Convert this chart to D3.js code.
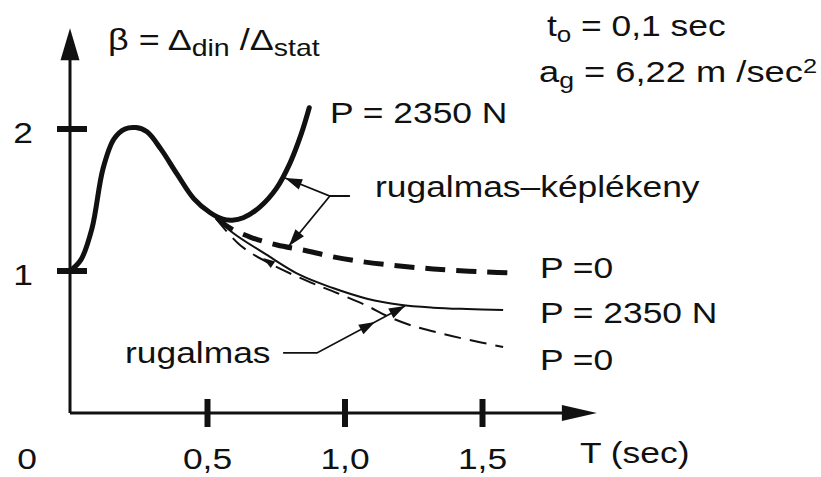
<!DOCTYPE html>
<html>
<head>
<meta charset="utf-8">
<script src="https://cdn.jsdelivr.net/npm/d3@7"></script>
<style>
  html, body { margin: 0; padding: 0; background: #fff; }
  svg text { font-family: "Liberation Sans", Arial, Helvetica, sans-serif; fill: #111; }
</style>
</head>
<body>
<div id="chart"></div>
<script>
// periods T (sec) and dynamic factor beta
var tPlastic2350 = [0, 0.04, 0.08, 0.12, 0.16, 0.2, 0.24, 0.28, 0.33, 0.39, 0.45, 0.51, 0.556, 0.59, 0.63, 0.69, 0.75, 0.8, 0.84, 0.87];
var bPlastic2350 = [1.0, 1.08, 1.3, 1.72, 1.93, 2.0, 2.01, 1.98, 1.86, 1.68, 1.51, 1.41, 1.365, 1.358, 1.375, 1.45, 1.58, 1.76, 1.96, 2.15];

var tPlastic0 = [0.535, 0.575, 0.655, 0.753, 0.847, 0.956, 1.065, 1.175, 1.284, 1.393, 1.516, 1.618];
var bPlastic0 = [1.375, 1.31, 1.239, 1.183, 1.148, 1.10, 1.065, 1.04, 1.02, 1.005, 0.993, 0.986];

var tElastic2350 = [0.53, 0.593, 0.716, 0.836, 0.956, 1.08, 1.2, 1.32, 1.444, 1.575];
var bElastic2350 = [1.375, 1.268, 1.113, 0.972, 0.88, 0.805, 0.762, 0.742, 0.732, 0.725];

var tElastic0 = [0.53, 0.618, 0.716, 0.862, 0.971, 1.08, 1.153, 1.236, 1.331, 1.436, 1.575];
var bElastic0 = [1.37, 1.183, 1.063, 0.93, 0.845, 0.755, 0.683, 0.62, 0.57, 0.521, 0.465];

var xTicks = [0.5, 1.0, 1.5];
var xTickLabels = ['0,5', '1,0', '1,5'];
var yTicks = [1, 2];
var yTickLabels = ['1', '2'];

var W = 821, H = 477;
var STRETCH = 1.18; // the scan is wider than it is tall

var svg = d3.select('#chart').append('svg')
  .attr('width', W)
  .attr('height', H);

var x = d3.scaleLinear().domain([0, 1.5]).range([70, 482.5]);
var y = d3.scaleLinear().domain([0, 2]).range([413, 129]);
var xEnd = 1.916, yEnd = 2.71;

function zip(ts, bs) {
  return ts.map(function (t, i) { return [t, bs[i]]; });
}

var line = d3.line()
  .x(function (d) { return x(d[0]); })
  .y(function (d) { return y(d[1]); })
  .curve(d3.curveCatmullRom.alpha(0.5));

// filled arrow head, tip at px point, pointing away from "from"
function head(g, tip, from, len, half) {
  var dx = tip[0] - from[0], dy = tip[1] - from[1];
  var l = Math.sqrt(dx * dx + dy * dy);
  var ux = dx / l, uy = dy / l;
  var bx = tip[0] - ux * len, by = tip[1] - uy * len;
  g.append('path')
    .attr('d', 'M' + tip[0] + ',' + tip[1] +
      'L' + (bx - uy * half) + ',' + (by + ux * half) +
      'L' + (bx + uy * half) + ',' + (by - ux * half) + 'Z')
    .attr('fill', '#111');
}

function px(p) { return [x(p[0]), y(p[1])]; }

// axes
var axes = svg.append('g').attr('class', 'axes');
axes.append('path')
  .attr('d', 'M' + x(0) + ',' + y(0) + 'V' + (y(yEnd) + 20) + 'M' + x(0) + ',' + y(0) + 'H' + (x(xEnd) - 20))
  .attr('stroke', '#111').attr('stroke-width', 3).attr('fill', 'none');
head(axes, px([0, yEnd]), px([0, 0]), 32, 9.5);
head(axes, px([xEnd, 0]), px([0, 0]), 35, 8);

axes.selectAll('line.xt').data(xTicks).enter().append('line')
  .attr('class', 'xt')
  .attr('x1', x).attr('x2', x)
  .attr('y1', y(0) - 14).attr('y2', y(0) + 14)
  .attr('stroke', '#111').attr('stroke-width', 6);

axes.selectAll('line.yt').data(yTicks).enter().append('line')
  .attr('class', 'yt')
  .attr('y1', y).attr('y2', y)
  .attr('x1', x(0) - 13).attr('x2', x(0) + 17)
  .attr('stroke', '#111').attr('stroke-width', 6);

// text helper: parts = [[text, size, dy], ...]
function label(px0, py0, parts, anchor, sx) {
  var t = svg.append('text')
    .attr('transform', 'translate(' + px0 + ',' + py0 + ') scale(' + (sx || STRETCH) + ',1)')
    .attr('text-anchor', anchor || 'start');
  var shift = 0;
  parts.forEach(function (p) {
    var dy = (p[2] || 0) - shift;
    shift = p[2] || 0;
    t.append('tspan').attr('font-size', p[1] || 30).attr('dy', dy).text(p[0]);
  });
  return t;
}

xTicks.forEach(function (v, i) {
  label(x(v), y(0) + 56, [[xTickLabels[i], 30]], 'middle');
});
label(27, y(0) + 56, [['0', 30]], 'middle');
yTicks.forEach(function (v, i) {
  label(23, y(v) + 14, [[yTickLabels[i], 30]], 'middle');
});
label(580, 463, [['T (sec)', 30]]);

label(108, 50, [['β = Δ', 29], ['din', 23, 6], [' /Δ', 29], ['stat', 23, 6]], 'start', 1.24);
label(547, 36, [['t', 30], ['o', 22, 6], [' = 0,1 sec', 30]]);
label(539, 82, [['a', 30], ['g', 22, 6], [' = 6,22 m /sec', 30], ['2', 21, -9]], 'start', 1.21);

// curves
var curves = svg.append('g').attr('fill', 'none').attr('stroke', '#111');
curves.append('path').datum(zip(tPlastic2350, bPlastic2350))
  .attr('d', line).attr('stroke-width', 5).attr('stroke-linecap', 'round');
curves.append('path').datum(zip(tPlastic0, bPlastic0))
  .attr('d', line).attr('stroke-width', 5).attr('stroke-dasharray', '20,11');
curves.append('path').datum(zip(tElastic2350, bElastic2350))
  .attr('d', line).attr('stroke-width', 2);
curves.append('path').datum(zip(tElastic0, bElastic0))
  .attr('d', line).attr('stroke-width', 2).attr('stroke-dasharray', '17,9');

// curve labels
label(330, 123, [['P = 2350 N', 30]]);
label(375, 197, [['rugalmas–képlékeny', 30]]);
label(540, 278, [['P =0', 30]]);
label(540, 323, [['P = 2350 N', 30]]);
label(540, 370, [['P =0', 30]]);
label(125, 363, [['rugalmas', 30]]);

// callout leaders (chart units)
var topHook = [[1.018, 1.528], [0.945, 1.528]];
var topTips = [[0.782, 1.655], [0.796, 1.176]];
var lowHook = [[0.775, 0.423], [0.898, 0.423], [1.218, 0.754]];
var lowMid = [1.109, 0.641];
var tickMark = [[0.745, 1.035], [0.702, 1.092]];

var ann = svg.append('g');
var straight = d3.line().x(function (d) { return x(d[0]); }).y(function (d) { return y(d[1]); });
ann.append('path').datum(topHook.concat([topTips[0]]))
  .attr('d', straight).attr('fill', 'none').attr('stroke', '#111').attr('stroke-width', 1.8);
ann.append('path').datum([topHook[1], topTips[1]])
  .attr('d', straight).attr('fill', 'none').attr('stroke', '#111').attr('stroke-width', 1.8);
head(ann, px(topTips[0]), px(topHook[1]), 17, 5.5);
head(ann, px(topTips[1]), px(topHook[1]), 17, 5.5);

ann.append('path').datum(lowHook)
  .attr('d', straight).attr('fill', 'none').attr('stroke', '#111').attr('stroke-width', 1.8);
head(ann, px(lowMid), px(lowHook[1]), 16, 5.5);
head(ann, px(lowHook[2]), px(lowHook[1]), 16, 5.5);
head(ann, px(tickMark[1]), px(tickMark[0]), 12, 4);
</script>
</body>
</html>
